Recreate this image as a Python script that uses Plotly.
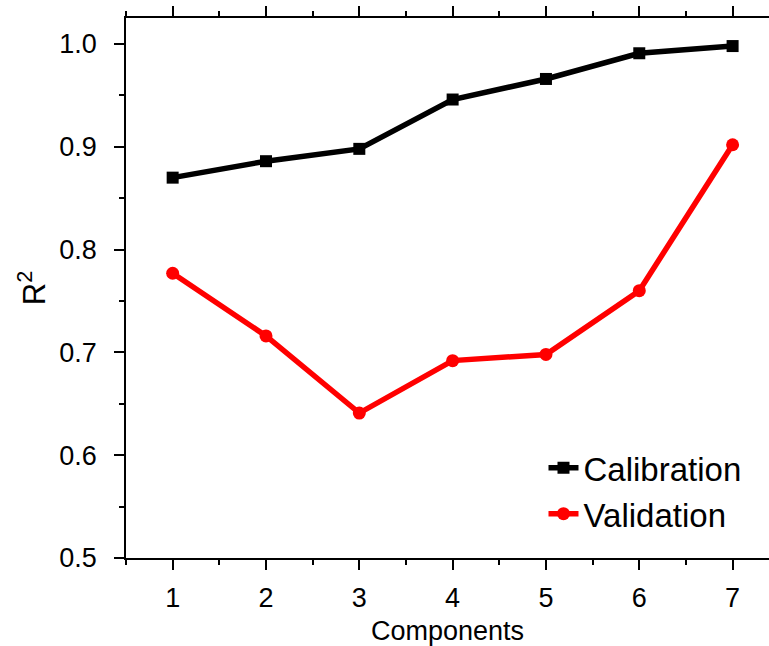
import plotly.graph_objects as go

components = [1, 2, 3, 4, 5, 6, 7]
calibration = [0.870, 0.886, 0.898, 0.946, 0.966, 0.991, 0.998]
validation = [0.777, 0.716, 0.641, 0.692, 0.698, 0.760, 0.902]
x_ticks = [1, 2, 3, 4, 5, 6, 7]
y_ticks = [0.5, 0.6, 0.7, 0.8, 0.9, 1.0]
y_tick_labels = ["0.5", "0.6", "0.7", "0.8", "0.9", "1.0"]

FONT = "Liberation Sans"

fig = go.Figure()
fig.add_trace(go.Scatter(x=components, y=calibration, name="Calibration",
                         mode="lines+markers",
                         line=dict(color="black", width=5.5),
                         marker=dict(symbol="square", size=12, color="black")))
fig.add_trace(go.Scatter(x=components, y=validation, name="Validation",
                         mode="lines+markers",
                         line=dict(color="#ff0000", width=5.5),
                         marker=dict(symbol="circle", size=13, color="#ff0000")))

fig.update_layout(
    width=769, height=646,
    margin=dict(l=126, r=0, t=18, b=88),
    paper_bgcolor="white", plot_bgcolor="white",
    font=dict(family=FONT, color="black"),
    showlegend=True,
    legend=dict(x=0.965, y=0.03, xanchor="right", yanchor="bottom",
                font=dict(size=33, family=FONT), bgcolor="rgba(0,0,0,0)",
                tracegroupgap=0),
)
fig.update_xaxes(range=[0.5, 7.39], tickvals=x_ticks, ticks="outside", ticklen=10,
                 tickwidth=1.5, tickcolor="black", showline=True, linecolor="black",
                 linewidth=1.5, mirror="ticks", showgrid=False, zeroline=False,
                 automargin=False, ticklabelstandoff=5,
                 tickfont=dict(size=27, family=FONT),
                 minor=dict(dtick=0.5, tick0=0.5, ticks="outside", ticklen=5, tickwidth=1.5, tickcolor="black"),
                 title=dict(text="Components", font=dict(size=27, family=FONT), standoff=10))
fig.update_yaxes(range=[0.5, 1.0253], tickvals=y_ticks, ticktext=y_tick_labels,
                 ticks="outside", ticklen=10, tickwidth=1.5, tickcolor="black",
                 showline=True, linecolor="black", linewidth=1.5, showgrid=False,
                 zeroline=False, automargin=False, ticklabelstandoff=12,
                 tickfont=dict(size=27, family=FONT),
                 minor=dict(dtick=0.05, tick0=0.5, ticks="outside", ticklen=5, tickwidth=1.5, tickcolor="black"),
                 title=dict(text="R<sup>2</sup>", font=dict(size=31, family=FONT), standoff=4))

fig.write_html("out.html", config={"displayModeBar": False},
               post_script="document.body.style.margin='0';document.body.style.overflow='hidden';")
